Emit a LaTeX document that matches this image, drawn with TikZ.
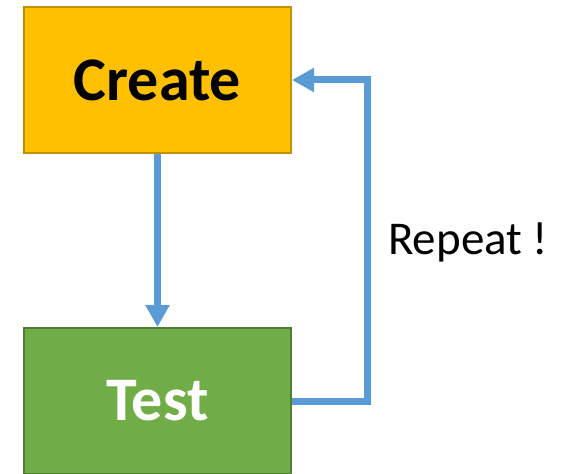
\documentclass[tikz,border=0pt]{standalone}
\usepackage{fontspec}
\setmainfont{Carlito}
\usetikzlibrary{arrows.meta}
\definecolor{boxgold}{HTML}{FFC000}
\definecolor{boxgoldline}{HTML}{BF9000}
\definecolor{boxgreen}{HTML}{70AD47}
\definecolor{boxgreenline}{HTML}{507E32}
\definecolor{flowblue}{HTML}{5B9BD5}
\tikzset{
  stagebox/.style={draw, line width=2pt, minimum width=267pt, minimum height=146pt,
    inner sep=0pt, font=\fontsize{62}{70}\selectfont\bfseries},
  flow/.style={draw=flowblue, line width=7pt, line join=miter,
    -{Triangle[width=23pt, length=22pt]}},
}
\begin{document}
\begin{tikzpicture}[x=1pt, y=-1pt]
  \useasboundingbox (0,0) rectangle (569,473);
  % the two stages
  \node[stagebox, fill=boxgold, draw=boxgoldline, text=black] (create) at (157.5,80) {Create};
  \node[stagebox, fill=boxgreen, draw=boxgreenline, text=white] (test) at (157.5,401) {Test};
  % forward step
  \draw[flow] (create.south) -- (test.north);
  % loop back
  \coordinate (loopcorner) at (367,401);
  \draw[flow] (test.east) -- (loopcorner) |- (create.east);
  \node[anchor=base west, font=\fontsize{47}{52}\selectfont, inner sep=0pt] (repeat) at (388,254) {Repeat !};
\end{tikzpicture}
\end{document}
